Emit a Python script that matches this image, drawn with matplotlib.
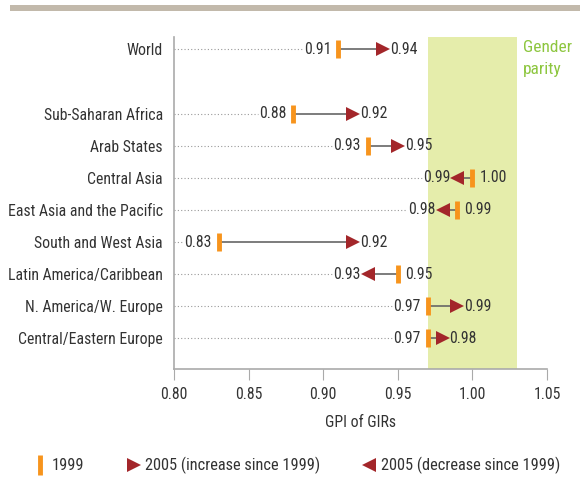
import numpy as np
import matplotlib
matplotlib.use("Agg")
import matplotlib.pyplot as plt
from matplotlib.lines import Line2D
from matplotlib.patches import Rectangle

plt.rcParams['font.family'] = ['Roboto Condensed', 'DejaVu Sans']

# data
regions = ["World", "Sub-Saharan Africa", "Arab States", "Central Asia",
           "East Asia and the Pacific", "South and West Asia",
           "Latin America/Caribbean", "N. America/W. Europe",
           "Central/Eastern Europe"]
gpi_1999 = [0.91, 0.88, 0.93, 1.00, 0.99, 0.83, 0.95, 0.97, 0.97]
gpi_2005 = [0.94, 0.92, 0.95, 0.99, 0.98, 0.92, 0.93, 0.99, 0.98]
ypos = [0, 2, 3, 4, 5, 6, 7, 8, 9]
xticks = [0.80, 0.85, 0.90, 0.95, 1.00, 1.05]
parity = (0.97, 1.03)

orange = "#F7941D"
red = "#A3262A"
txt = "#333333"
green_txt = "#8DC63F"
fs = 11.3

fig = plt.figure(figsize=(5.8, 4.82), dpi=100)
ax = fig.add_axes([0.3, 0.2344, 0.643, 0.6886])

# top grey rule
fig.add_artist(Rectangle((0.017, 0.978), 0.983, 0.011, transform=fig.transFigure,
                         color="#C2B9AB", lw=0))

ax.axvspan(parity[0], parity[1], color="#E5EDAB", lw=0, zorder=0)
ax.text(1.034, -0.06, "Gender", color=green_txt, fontsize=12.5, va="center", ha="left")
ax.text(1.034, 0.64, "parity", color=green_txt, fontsize=12.5, va="center", ha="left")

for y, a, b in zip(ypos, gpi_1999, gpi_2005):
    lo, hi = min(a, b), max(a, b)
    ax.plot([0.80, lo - 0.024], [y, y], color="#999999", lw=0.8,
            ls=(0, (1, 2)), zorder=1)
    ax.plot([a, b], [y, y], color="#666666", lw=1.2, zorder=2)
    mk = ">" if b > a else "<"
    ax.plot(b, y, marker=mk, color=red, ms=10.5, mew=0, zorder=3)
    ax.plot(a, y, marker="|", color=orange, ms=13, mew=3.5, zorder=4)
    ax.annotate("%.2f" % lo, (lo, y), xytext=(-5, 0), textcoords="offset points",
                ha="right", va="center", fontsize=fs, color=txt)
    ax.annotate("%.2f" % hi, (hi, y), xytext=(5, 0), textcoords="offset points",
                ha="left", va="center", fontsize=fs, color=txt)

ax.set_xlim(0.80, 1.05)
ax.set_ylim(9.95, -0.38)
ax.set_yticks(ypos)
ax.set_yticklabels(regions, fontsize=fs, color=txt)
ax.tick_params(axis="y", length=0, pad=8)
ax.set_xticks(xticks)
ax.set_xticklabels(["%.2f" % v for v in xticks], fontsize=fs, color=txt)
ax.tick_params(axis="x", length=8, color="#AAAAAA", pad=5)
ax.set_xlabel("GPI of GIRs", fontsize=fs, color=txt, labelpad=9)
for s in ["top", "right"]:
    ax.spines[s].set_visible(False)
for s in ["left", "bottom"]:
    ax.spines[s].set_color("#AAAAAA")
    ax.spines[s].set_linewidth(1.2)

handles = [
    Line2D([], [], ls="none", marker="|", color=orange, ms=15, mew=3.5),
    Line2D([], [], ls="none", marker=">", color=red, ms=10.5, mew=0),
    Line2D([], [], ls="none", marker="<", color=red, ms=10.5, mew=0),
]
labels = ["1999", "2005 (increase since 1999)", "2005 (decrease since 1999)"]
leg = fig.legend(handles, labels, loc="center", bbox_to_anchor=(0.512, 0.034),
                 ncol=3, frameon=False, fontsize=fs + 0.5, handlelength=0.8,
                 handletextpad=0.3, columnspacing=2.6)
for t in leg.get_texts():
    t.set_color(txt)

fig.savefig("out.png", dpi=100)
